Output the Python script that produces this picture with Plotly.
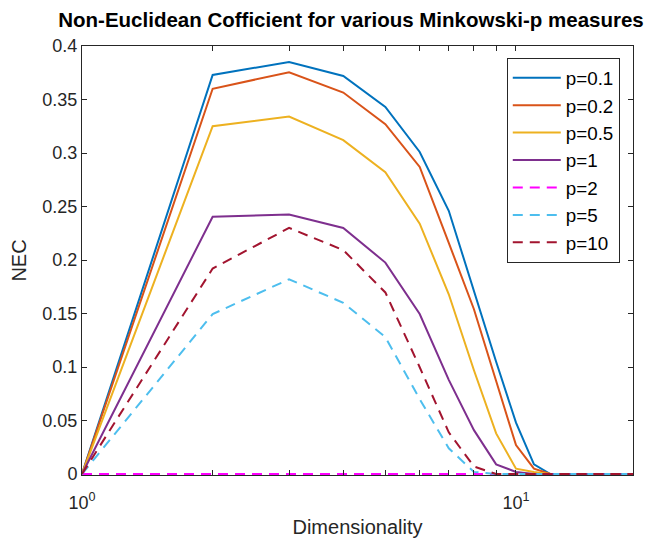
import plotly.graph_objects as go

# Dimensionality values (1..20) and NEC for each Minkowski-p
dims = list(range(1, 21))

nec_p01 = [0, 0.373, 0.385, 0.372, 0.343, 0.301, 0.246, 0.170, 0.105, 0.048,
           0.009, 0, 0, 0, 0, 0, 0, 0, 0, 0]
nec_p02 = [0, 0.360, 0.3755, 0.3565, 0.327, 0.287, 0.216, 0.154, 0.087, 0.027,
           0.005, 0, 0, 0, 0, 0, 0, 0, 0, 0]
nec_p05 = [0, 0.325, 0.334, 0.312, 0.282, 0.234, 0.168, 0.097, 0.038, 0.005,
           0.002, 0, 0, 0, 0, 0, 0, 0, 0, 0]
nec_p1 = [0, 0.2405, 0.2425, 0.230, 0.1976, 0.1495, 0.088, 0.041, 0.009, 0.002,
          0, 0, 0, 0, 0, 0, 0, 0, 0, 0]
nec_p2 = [0] * 20
nec_p5 = [0, 0.1495, 0.182, 0.160, 0.128, 0.070, 0.024, 0.002, 0, 0,
          0, 0, 0, 0, 0, 0, 0, 0, 0, 0]
nec_p10 = [0, 0.192, 0.230, 0.2093, 0.1697, 0.0998, 0.039, 0.007, 0, 0,
           0, 0, 0, 0, 0, 0, 0, 0, 0, 0]

series_names = ["p=0.1", "p=0.2", "p=0.5", "p=1", "p=2", "p=5", "p=10"]
series_values = [nec_p01, nec_p02, nec_p05, nec_p1, nec_p2, nec_p5, nec_p10]
colors = ["#0072BD", "#D95319", "#EDB120", "#7E2F8E", "#FF00FF", "#4DBEEE", "#A2142F"]
dashes = ["solid", "solid", "solid", "solid", "10px,7px", "10px,7px", "10px,7px"]

FONT = "Liberation Sans, Arial, Helvetica, sans-serif"
AX = "#262626"

fig = go.Figure()
for name, vals, col, dsh in zip(series_names, series_values, colors, dashes):
    fig.add_trace(go.Scatter(
        x=dims, y=vals, name=name, mode="lines",
        line=dict(color=col, width=2, dash=dsh),
    ))

fig.update_layout(
    width=650, height=538,
    margin=dict(l=82, r=17, t=46, b=63, autoexpand=False),
    paper_bgcolor="white", plot_bgcolor="white",
    font=dict(family=FONT, size=18, color=AX),
    title=dict(
        text="<b>Non-Euclidean Cofficient for various Minkowski-p measures</b>",
        x=0.54, xanchor="center", y=0.963, yanchor="middle",
        font=dict(family=FONT, size=20.5, color="black"),
    ),
    showlegend=True,
    legend=dict(
        x=0.976, xanchor="right", y=0.972, yanchor="top",
        bgcolor="white", bordercolor="#262626", borderwidth=1,
        font=dict(family=FONT, size=18.8, color="black"),
        tracegroupgap=0, itemwidth=48,
    ),
)

fig.update_xaxes(
    type="log", range=[0, 1.2696], automargin=False,
    tickvals=[1, 10], ticktext=["10<sup>0</sup>", "10<sup>1</sup>"],
    ticks="inside", ticklen=5, tickwidth=1, tickcolor=AX,
    ticklabelstandoff=11,
    minor=dict(tickvals=[2, 3, 4, 5, 6, 7, 8, 9, 20], ticks="inside",
               ticklen=5, tickwidth=1, tickcolor=AX, showgrid=False),
    showline=True, linecolor=AX, linewidth=1, mirror="allticks",
    showgrid=False, zeroline=False,
    title=dict(text="Dimensionality", standoff=8, font=dict(size=20)),
)
fig.update_yaxes(
    range=[-0.0009, 0.4], dtick=0.05, tick0=0, automargin=False,
    ticks="inside", ticklen=5, tickwidth=1, tickcolor=AX,
    showline=True, linecolor=AX, linewidth=1, mirror="allticks",
    showgrid=False, zeroline=False,
    title=dict(text="NEC", standoff=10, font=dict(size=20)),
)

fig.write_html("out.html")
